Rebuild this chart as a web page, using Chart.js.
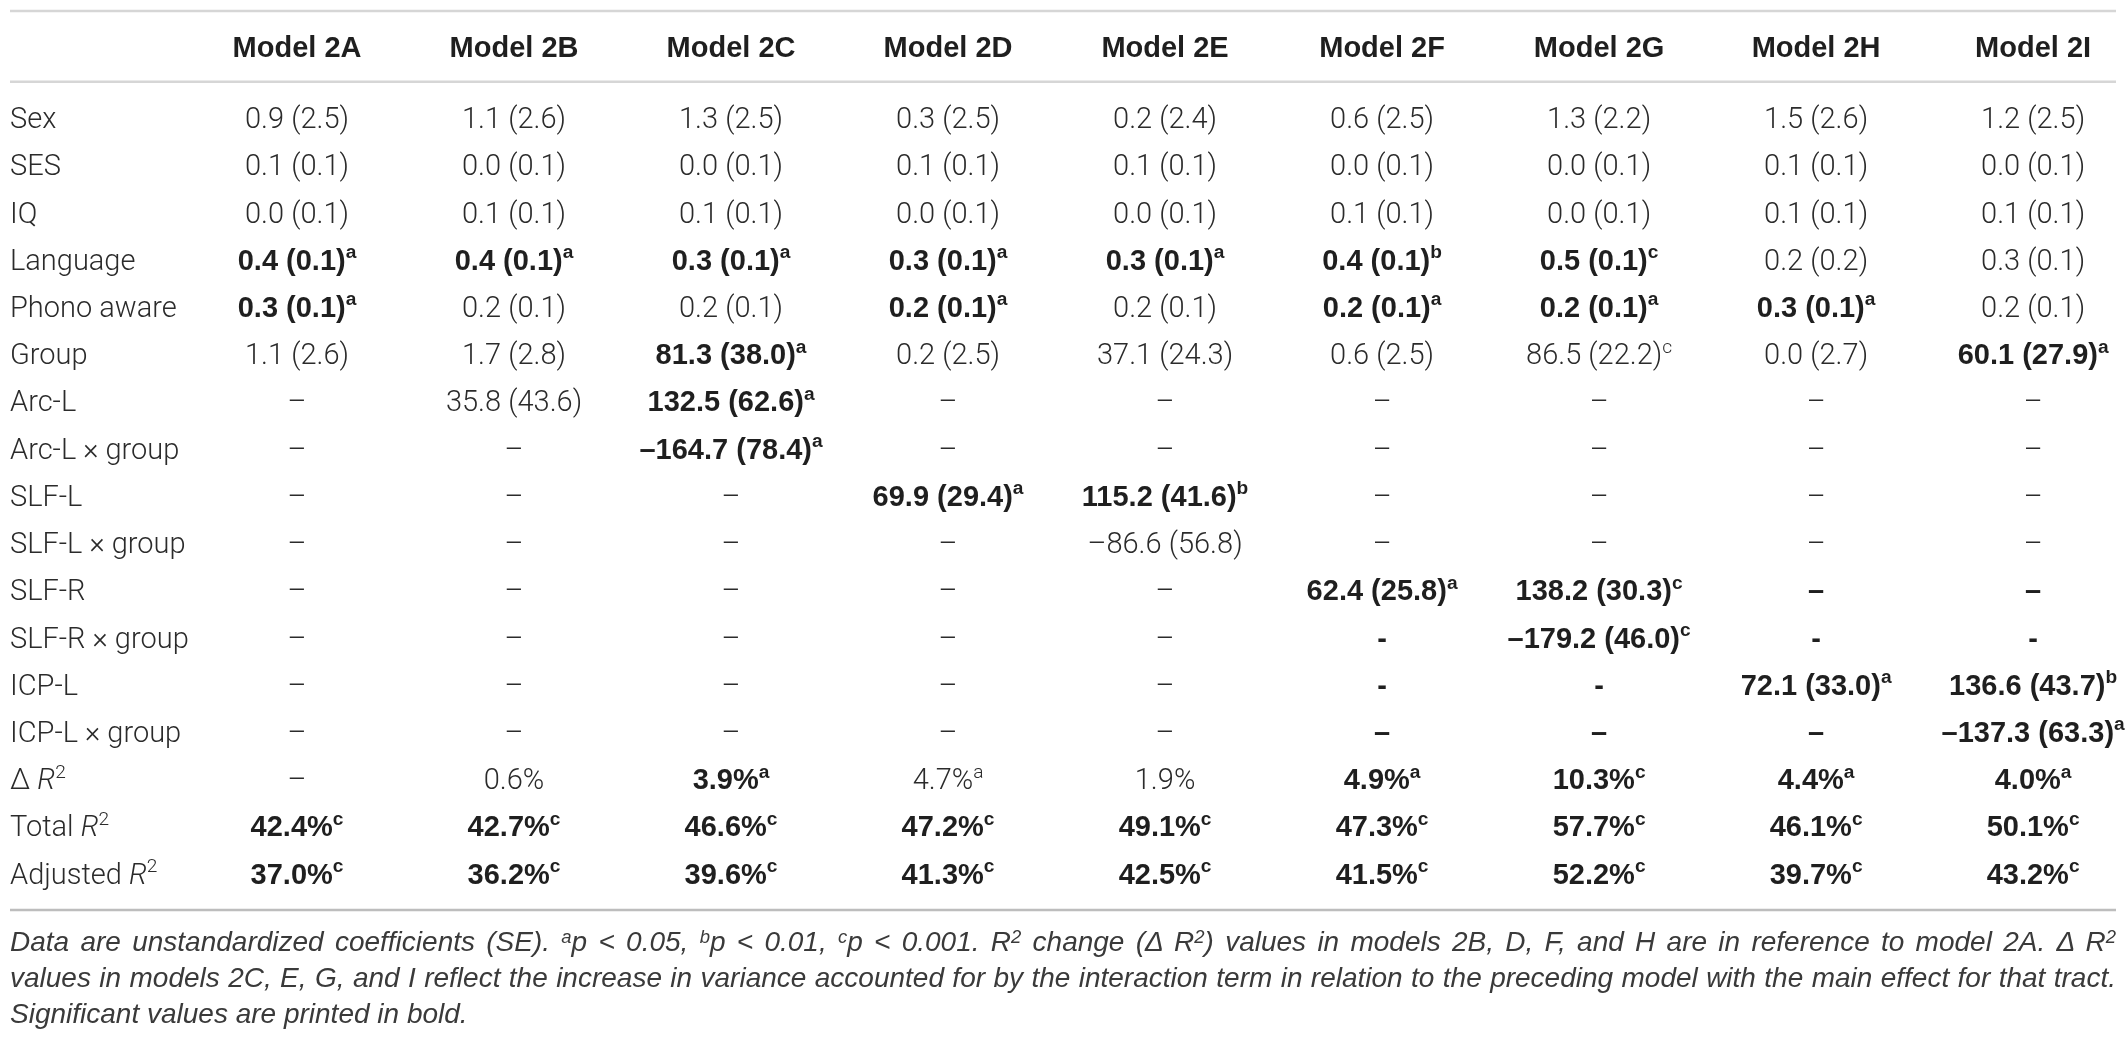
<!DOCTYPE html>
<html>
<head>
<meta charset="utf-8">
<script src="https://cdn.jsdelivr.net/npm/chart.js@4.4.1/dist/chart.umd.min.js"></script>
<style>
  html, body { margin: 0; padding: 0; background: #fff; }
  #wrap { position: relative; width: 2128px; height: 925px; }
  #note {
    position: absolute; left: 10px; top: 924px; width: 2106px;
    font-family: "Liberation Sans", Arial, sans-serif; font-weight: 400; font-style: italic;
    font-size: 28px; line-height: 36px; color: #3a3a3a; white-space: nowrap;
  }
  #note .j { text-align: justify; text-align-last: justify; }
  #note sup { font-size: 0.66em; line-height: 0; vertical-align: 0.45em; }
</style>
</head>
<body>
<div id="wrap"><canvas id="table"></canvas></div>
<div id="note">
  <div class="j">Data are unstandardized coefficients (SE). <sup>a</sup>p &lt; 0.05, <sup>b</sup>p &lt; 0.01, <sup>c</sup>p &lt; 0.001. R<sup>2</sup> change (Δ R<sup>2</sup>) values in models 2B, D, F, and H are in reference to model 2A. Δ R<sup>2</sup></div>
  <div class="j">values in models 2C, E, G, and I reflect the increase in variance accounted for by the interaction term in relation to the preceding model with the main effect for that tract.</div>
  <div>Significant values are printed in bold.</div>
</div>
<script>
// column headers
const models = ['Model 2A', 'Model 2B', 'Model 2C', 'Model 2D', 'Model 2E', 'Model 2F', 'Model 2G', 'Model 2H', 'Model 2I'];

// row labels (_x_ = italic, ^x = superscript)
const rowLabels = ['Sex', 'SES', 'IQ', 'Language', 'Phono aware', 'Group', 'Arc-L', 'Arc-L × group',
  'SLF-L', 'SLF-L × group', 'SLF-R', 'SLF-R × group', 'ICP-L', 'ICP-L × group',
  'Δ _R_^2', 'Total _R_^2', 'Adjusted _R_^2'];

// cell values, one array per row (** = bold, ^x = superscript)
const sex      = ['0.9 (2.5)', '1.1 (2.6)', '1.3 (2.5)', '0.3 (2.5)', '0.2 (2.4)', '0.6 (2.5)', '1.3 (2.2)', '1.5 (2.6)', '1.2 (2.5)'];
const ses      = ['0.1 (0.1)', '0.0 (0.1)', '0.0 (0.1)', '0.1 (0.1)', '0.1 (0.1)', '0.0 (0.1)', '0.0 (0.1)', '0.1 (0.1)', '0.0 (0.1)'];
const iq       = ['0.0 (0.1)', '0.1 (0.1)', '0.1 (0.1)', '0.0 (0.1)', '0.0 (0.1)', '0.1 (0.1)', '0.0 (0.1)', '0.1 (0.1)', '0.1 (0.1)'];
const language = ['**0.4 (0.1)^a', '**0.4 (0.1)^a', '**0.3 (0.1)^a', '**0.3 (0.1)^a', '**0.3 (0.1)^a', '**0.4 (0.1)^b', '**0.5 (0.1)^c', '0.2 (0.2)', '0.3 (0.1)'];
const phono    = ['**0.3 (0.1)^a', '0.2 (0.1)', '0.2 (0.1)', '**0.2 (0.1)^a', '0.2 (0.1)', '**0.2 (0.1)^a', '**0.2 (0.1)^a', '**0.3 (0.1)^a', '0.2 (0.1)'];
const group    = ['1.1 (2.6)', '1.7 (2.8)', '**81.3 (38.0)^a', '0.2 (2.5)', '37.1 (24.3)', '0.6 (2.5)', '86.5 (22.2)^c', '0.0 (2.7)', '**60.1 (27.9)^a'];
const arcL     = ['–', '35.8 (43.6)', '**132.5 (62.6)^a', '–', '–', '–', '–', '–', '–'];
const arcLxG   = ['–', '–', '**–164.7 (78.4)^a', '–', '–', '–', '–', '–', '–'];
const slfL     = ['–', '–', '–', '**69.9 (29.4)^a', '**115.2 (41.6)^b', '–', '–', '–', '–'];
const slfLxG   = ['–', '–', '–', '–', '–86.6 (56.8)', '–', '–', '–', '–'];
const slfR     = ['–', '–', '–', '–', '–', '**62.4 (25.8)^a', '**138.2 (30.3)^c', '**–', '**–'];
const slfRxG   = ['–', '–', '–', '–', '–', '**-', '**–179.2 (46.0)^c', '**-', '**-'];
const icpL     = ['–', '–', '–', '–', '–', '**-', '**-', '**72.1 (33.0)^a', '**136.6 (43.7)^b'];
const icpLxG   = ['–', '–', '–', '–', '–', '**–', '**–', '**–', '**–137.3 (63.3)^a'];
const deltaR2  = ['–', '0.6%', '**3.9%^a', '4.7%^a', '1.9%', '**4.9%^a', '**10.3%^c', '**4.4%^a', '**4.0%^a'];
const totalR2  = ['**42.4%^c', '**42.7%^c', '**46.6%^c', '**47.2%^c', '**49.1%^c', '**47.3%^c', '**57.7%^c', '**46.1%^c', '**50.1%^c'];
const adjR2    = ['**37.0%^c', '**36.2%^c', '**39.6%^c', '**41.3%^c', '**42.5%^c', '**41.5%^c', '**52.2%^c', '**39.7%^c', '**43.2%^c'];

const cells = [sex, ses, iq, language, phono, group, arcL, arcLxG, slfL, slfLxG, slfR, slfRxG, icpL, icpLxG, deltaR2, totalR2, adjR2];

const FS = 29;
const REG = 'Roboto';
const BOLD = '"Liberation Sans"';

function parse(s) {
  let bold = false;
  if (s.startsWith('**')) { bold = true; s = s.slice(2); }
  const parts = s.split('^');
  const segs = [];
  parts[0].split('_').forEach(function (t, i) {
    if (t) segs.push({ text: t, italic: i % 2 === 1, sup: false, bold: bold });
  });
  if (parts[1]) segs.push({ text: parts[1], italic: false, sup: true, bold: bold });
  return segs;
}

function fontOf(seg) {
  const size = seg.sup ? FS * 0.66 : FS;
  const fam = seg.bold ? BOLD : REG;
  const w = seg.bold ? 700 : 300;
  return (seg.italic ? 'italic ' : '') + w + ' ' + size + 'px ' + fam;
}

function drawRich(ctx, s, x, y, align) {
  const segs = parse(s);
  let total = 0;
  segs.forEach(function (g) { ctx.font = fontOf(g); g.w = ctx.measureText(g.text).width; total += g.w; });
  let cx = align === 'left' ? x : x - total / 2;
  const base = y + FS * 0.36;
  segs.forEach(function (g) {
    ctx.font = fontOf(g);
    ctx.fillStyle = g.bold ? '#1f1f1f' : '#2b2b2b';
    ctx.fillText(g.text, cx, g.sup ? base - FS * 0.40 : base);
    cx += g.w;
  });
}

const tablePlugin = {
  id: 'tableText',
  afterDatasetsDraw(chart) {
    const ctx = chart.ctx;
    const xs = chart.scales.x, ys = chart.scales.y;
    const area = chart.chartArea;
    ctx.save();
    ctx.textBaseline = 'alphabetic';
    ctx.textAlign = 'left';

    // rules
    const rule = function (v, col) {
      const py = ys.getPixelForValue(v);
      ctx.strokeStyle = col;
      ctx.lineWidth = 2.5;
      ctx.beginPath();
      ctx.moveTo(area.left, py);
      ctx.lineTo(area.right, py);
      ctx.stroke();
    };
    rule(ys.min, '#d6d6d6');
    rule(-0.76, '#d6d6d6');
    rule(ys.max, '#bdbdbd');

    // header
    models.forEach(function (m, c) {
      drawRich(ctx, '**' + m, xs.getPixelForValue(c), ys.getPixelForValue(-1.5), 'center');
    });
    // row labels
    rowLabels.forEach(function (l, r) {
      drawRich(ctx, l, area.left, ys.getPixelForValue(r), 'left');
    });
    // cells
    const meta = chart.getDatasetMeta(0);
    meta.data.forEach(function (pt, i) {
      drawRich(ctx, chart.data.datasets[0].data[i].v, pt.x, pt.y, 'center');
    });
    ctx.restore();
  }
};

const points = [];
cells.forEach(function (row, r) {
  row.forEach(function (v, c) { points.push({ x: c, y: r, v: v }); });
});

new Chart(document.getElementById('table'), {
  type: 'scatter',
  data: { datasets: [{ data: points, pointRadius: 0, pointHoverRadius: 0 }] },
  options: {
    responsive: true,
    maintainAspectRatio: false,
    animation: false,
    events: [],
    layout: { padding: { left: 10, right: 12, top: 11, bottom: 15 } },
    plugins: { legend: { display: false }, tooltip: { enabled: false } },
    scales: {
      x: { type: 'linear', display: false, min: -1.3226, max: 8.382 },
      y: { type: 'linear', display: false, reverse: true, min: -2.26, max: 16.78 }
    }
  },
  plugins: [tablePlugin]
});
</script>
</body>
</html>
